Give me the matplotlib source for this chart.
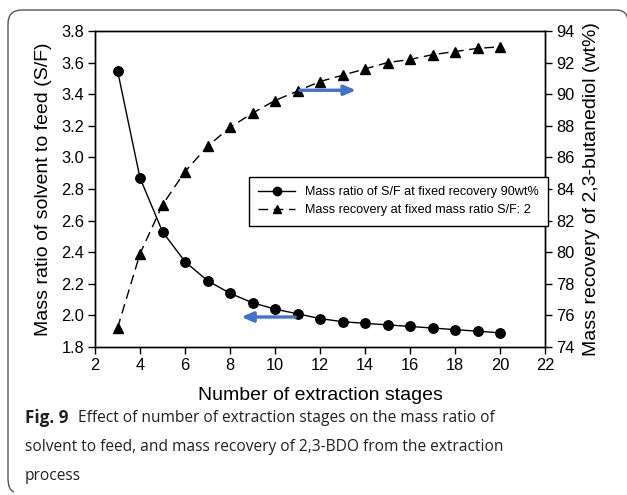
import matplotlib
matplotlib.use("Agg")
import matplotlib.pyplot as plt
from matplotlib.path import Path
from matplotlib.patches import PathPatch

# ---- data ----
stages = [3, 4, 5, 6, 7, 8, 9, 10, 11, 12, 13, 14, 15, 16, 17, 18, 19, 20]
sf_ratio = [3.55, 2.87, 2.53, 2.34, 2.22, 2.14, 2.08, 2.04, 2.01, 1.98, 1.96,
            1.95, 1.94, 1.93, 1.92, 1.91, 1.90, 1.89]
recovery = [75.2, 79.9, 83.0, 85.1, 86.7, 87.9, 88.8, 89.6, 90.2, 90.8, 91.2,
            91.6, 92.0, 92.2, 92.5, 92.7, 92.9, 93.0]

x_ticks = [2, 4, 6, 8, 10, 12, 14, 16, 18, 20, 22]
left_ticks = [1.8, 2.0, 2.2, 2.4, 2.6, 2.8, 3.0, 3.2, 3.4, 3.6, 3.8]
right_ticks = [74, 76, 78, 80, 82, 84, 86, 88, 90, 92, 94]

label_sf = "Mass ratio of S/F at fixed recovery 90wt%"
label_rec = "Mass recovery at fixed mass ratio S/F: 2"
xlabel = "Number of extraction stages"
ylabel_left = "Mass ratio of solvent to feed (S/F)"
ylabel_right = "Mass recovery of 2,3-butanediol (wt%)"

arrow_right = {"start": (11.1, 90.25), "end": (13.6, 90.25)}   # on recovery axis
arrow_left = {"start": (10.9, 1.99), "end": (8.5, 1.99)}       # on S/F axis

caption_bold = "Fig. 9"
caption_lines = ["Effect of number of extraction stages on the mass ratio of",
                 "solvent to feed, and mass recovery of 2,3-BDO from the extraction",
                 "process"]

# ---- figure ----
W, H = 627, 495
fig = plt.figure(figsize=(W / 100, H / 100), dpi=100)
plt.rcParams['font.family'] = ['Liberation Sans', 'DejaVu Sans']

ax = fig.add_axes([95 / W, (H - 347) / H, 450 / W, 316 / H])
ax2 = ax.twinx()

ax.plot(stages, sf_ratio, color='black', lw=1.0, marker='o', markersize=6.8,
        label=label_sf, zorder=3)
ax2.plot(stages, recovery, color='black', lw=1.0, ls=(0, (7, 4)), marker='^',
         markersize=6.8, label=label_rec, zorder=3)

ax.set_xlim(2, 22)
ax.set_ylim(1.8, 3.8)
ax2.set_ylim(74, 94)
ax.set_xticks(x_ticks)
ax.set_yticks(left_ticks)
ax.set_yticklabels([f"{v:.1f}" for v in left_ticks])
ax2.set_yticks(right_ticks)

for a in (ax, ax2):
    a.tick_params(direction='out', length=5, width=1, labelsize=11.8, pad=3,
                  colors='black')
    for s in a.spines.values():
        s.set_linewidth(1.0)
        s.set_color('black')

ax.set_xlabel(xlabel, fontsize=14)
ax.set_ylabel(ylabel_left, fontsize=14)
ax2.set_ylabel(ylabel_right, fontsize=14, rotation=90)
ax.xaxis.set_label_coords(0.5, -0.125)
ax.yaxis.set_label_coords(-0.0956, 0.5)
ax2.yaxis.set_label_coords(1.085, 0.5)

# arrows
ax2.annotate("", xy=arrow_right["end"], xytext=arrow_right["start"],
             arrowprops=dict(arrowstyle='-|>,head_length=0.7,head_width=0.3',
                             color='#4472C4', lw=2.4, shrinkA=0, shrinkB=0),
             zorder=4)
ax.annotate("", xy=arrow_left["end"], xytext=arrow_left["start"],
            arrowprops=dict(arrowstyle='-|>,head_length=0.7,head_width=0.3',
                            color='#4472C4', lw=2.4, shrinkA=0, shrinkB=0),
            zorder=4)

# legend
h1, l1 = ax.get_legend_handles_labels()
h2, l2 = ax2.get_legend_handles_labels()
leg = ax2.legend(h1 + h2, l1 + l2, loc='upper left',
                 bbox_to_anchor=(0.342, 0.538), borderaxespad=0,
                 fontsize=9.1, handlelength=2.9, handletextpad=0.75,
                 labelspacing=0.45, borderpad=0.75, fancybox=False,
                 framealpha=1, edgecolor='black')
leg.get_frame().set_linewidth(1.0)
for lh in leg.legend_handles:
    lh.set_markersize(6)

# border (rounded, open at right/bottom)
def px(x, y):
    return (x / W, 1 - y / H)

r = 14
verts = [px(628, 22), px(628, 10), px(616, 10),
         px(8 + r, 10),
         px(8, 10), px(8, 10 + r),
         px(8, 478), px(8, 490), px(14, 492)]
codes = [Path.MOVETO, Path.CURVE3, Path.CURVE3,
         Path.LINETO,
         Path.CURVE3, Path.CURVE3,
         Path.LINETO, Path.CURVE3, Path.CURVE3]
fig.patches.append(PathPatch(Path(verts, codes), transform=fig.transFigure,
                             fill=False, edgecolor='#555555', lw=1.0))

# caption
cap_font = ['Open Sans', 'DejaVu Sans']
cap_size = 11.2
cap_color = '#231f20'
y_lines = [418, 447, 476]
fig.canvas.draw()
renderer = fig.canvas.get_renderer()
tb = fig.text(25 / W, 1 - y_lines[0] / H, caption_bold, fontsize=12.3,
              fontweight='bold', family=cap_font, color=cap_color, va='center')
bb = tb.get_window_extent(renderer)
fig.text((bb.x1 + 9) / W, 1 - y_lines[0] / H, caption_lines[0], fontsize=cap_size,
         family=cap_font, color=cap_color, va='center')
for line, yy in zip(caption_lines[1:], y_lines[1:]):
    fig.text(25 / W, 1 - yy / H, line, fontsize=cap_size, family=cap_font,
             color=cap_color, va='center')

fig.savefig("out.png", dpi=100)
